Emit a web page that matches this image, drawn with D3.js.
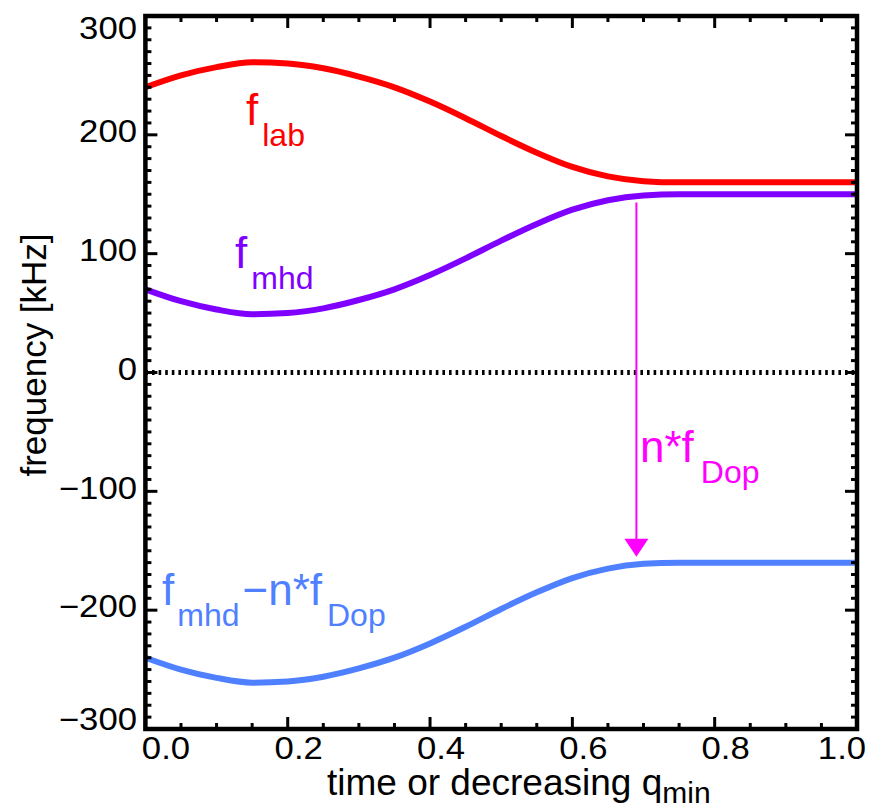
<!DOCTYPE html>
<html><head><meta charset="utf-8">
<script src="https://cdn.jsdelivr.net/npm/d3@7"></script>
<style>
body{margin:0;background:#fff}
text{font-family:"Liberation Sans",Arial,Helvetica,sans-serif}
</style>
</head><body>
<svg id="c" width="878" height="810"></svg>
<script>
// ---- data ----
const tValues      = [0, 0.05, 0.1, 0.15, 0.2, 0.25, 0.3, 0.35, 0.4, 0.45, 0.5, 0.55, 0.6, 0.65, 0.7, 0.75, 0.8, 0.85, 0.9, 0.95, 1.0];
const fLab         = [240, 250, 257, 261, 260, 256, 249, 240, 228, 214, 199, 185, 173, 165, 161, 160, 160, 160, 160, 160, 160];
const fMhd         = [70, 60, 53, 49, 50, 54, 61, 70, 82, 96, 111, 125, 137, 145, 149, 150, 150, 150, 150, 150, 150];
const fMhdMinusDop = [-240, -250, -257, -261, -260, -256, -249, -240, -228, -214, -199, -185, -173, -165, -161, -160, -160, -160, -160, -160, -160];
const xTicks       = [0, 0.2, 0.4, 0.6, 0.8, 1.0];
const xTickLabels  = ["0.0", "0.2", "0.4", "0.6", "0.8", "1.0"];
const yTicks       = [-300, -200, -100, 0, 100, 200, 300];
const yTickLabels  = ["\u2212300", "\u2212200", "\u2212100", "0", "100", "200", "300"];
const arrowT = 0.69, arrowFrom = 143, arrowTo = -155;

const svg = d3.select("#c");
const x = d3.scaleLinear().domain([0, 1]).range([145.4, 857]);
const y = d3.scaleLinear().domain([-300, 300]).range([729, 16]);

// zero dotted line
svg.append("line").attr("x1", x(0)).attr("x2", x(1)).attr("y1", y(0)).attr("y2", y(0))
  .attr("stroke", "#000").attr("stroke-width", 5).attr("stroke-dasharray", "2.6,4");

// curves
const line = d3.line().x((d, i) => x(tValues[i])).y(d => y(d)).curve(d3.curveMonotoneX);
[[fLab, "#ff0000"], [fMhd, "#7f00ff"], [fMhdMinusDop, "#4f80ff"]].forEach(([s, c]) => {
  svg.append("path").attr("d", line(s)).attr("fill", "none").attr("stroke", c).attr("stroke-width", 6);
});

// arrow
const ax = x(arrowT), ay1 = y(arrowFrom), ay2 = y(arrowTo);
svg.append("line").attr("x1", ax).attr("x2", ax).attr("y1", ay1).attr("y2", ay2 - 16)
  .attr("stroke", "#ff00ff").attr("stroke-width", 2);
svg.append("path").attr("d", `M${ax - 12},${ay2 - 18} L${ax + 12},${ay2 - 18} L${ax},${ay2} Z`).attr("fill", "#ff00ff");

// frame & ticks
const g = svg.append("g").attr("stroke", "#000");
const xMinor = d3.range(0, 1.0001, 0.05);
const yMinor = d3.range(-300, 300.1, 10);
const isXMajor = v => xTicks.some(t => Math.abs(t - v) < 1e-6);
const isYMajor = v => yTicks.some(t => Math.abs(t - v) < 1e-6);
xMinor.forEach(v => {
  const L = isXMajor(v) ? 12 : 6;
  g.append("line").attr("x1", x(v)).attr("x2", x(v)).attr("y1", y(-300)).attr("y2", y(-300) - L).attr("stroke-width", 3);
  g.append("line").attr("x1", x(v)).attr("x2", x(v)).attr("y1", y(300)).attr("y2", y(300) + L).attr("stroke-width", 3);
});
yMinor.forEach(v => {
  const L = isYMajor(v) ? 12 : 6;
  g.append("line").attr("x1", x(0)).attr("x2", x(0) + L).attr("y1", y(v)).attr("y2", y(v)).attr("stroke-width", 3);
  g.append("line").attr("x1", x(1)).attr("x2", x(1) - L).attr("y1", y(v)).attr("y2", y(v)).attr("stroke-width", 3);
});
g.append("rect").attr("x", x(0)).attr("y", y(300)).attr("width", x(1) - x(0)).attr("height", y(-300) - y(300))
  .attr("fill", "none").attr("stroke-width", 4.5);

// tick labels
xTicks.forEach((v, i) => {
  const px = Math.min(Math.max(x(v) + 11, 166), 842);
  svg.append("text").attr("transform", `translate(${px},759) scale(1.12,1)`).attr("text-anchor", "middle")
    .attr("font-size", 31).attr("fill", "#000").text(xTickLabels[i]);
});
yTicks.forEach((v, i) => {
  const py = Math.min(Math.max(y(v) - 4, 28), 719);
  svg.append("text").attr("transform", `translate(137,${py}) scale(1.12,1)`).attr("dy", "0.36em").attr("text-anchor", "end")
    .attr("font-size", 31).attr("fill", "#000").text(yTickLabels[i]);
});

// axis titles
svg.append("text").attr("transform", "translate(46,355) rotate(-90)").attr("text-anchor", "middle")
  .attr("font-size", 35).attr("fill", "#000").text("frequency [kHz]");
const xt = svg.append("text").attr("x", 327).attr("y", 795).attr("font-size", 37).attr("fill", "#000");
xt.append("tspan").text("time or decreasing q");
xt.append("tspan").attr("font-size", 30).attr("dy", 8).text("min");

// curve labels: [text, isSubscript, dx]
function lbl(px, py, parts, color) {
  const t = svg.append("text").attr("x", px).attr("y", py).attr("fill", color).attr("font-size", 44);
  let cur = 0;
  parts.forEach(([s, sub, dx]) => {
    const target = sub ? 21 : 0;
    t.append("tspan").attr("font-size", sub ? 32 : 44).attr("dy", target - cur).attr("dx", dx || 0).text(s);
    cur = target;
  });
}
lbl(246, 125, [["f", 0], ["lab", 1, 4]], "#ff0000");
lbl(235, 268, [["f", 0], ["mhd", 1, 4]], "#7f00ff");
lbl(162, 605, [["f", 0], ["mhd", 1, 3], ["\u2212n*f", 0, 3], ["Dop", 1, 5]], "#4f80ff");
lbl(640, 462, [["n*f", 0], ["Dop", 1, 7]], "#ff00ff");
</script>
</body></html>
